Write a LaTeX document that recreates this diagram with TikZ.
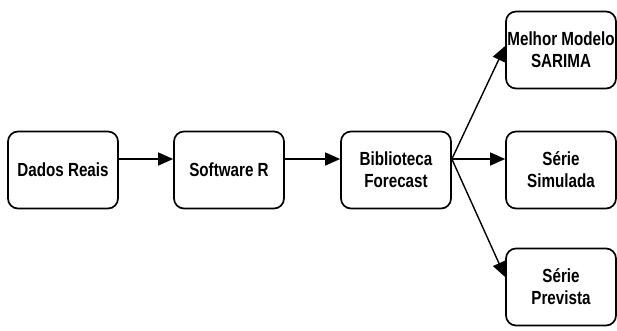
\documentclass[tikz,border=0pt]{standalone}
\usepackage{fontspec}
\setmainfont{Liberation Sans}[FakeStretch=0.8]
\usetikzlibrary{arrows.meta}

\begin{document}
\begin{tikzpicture}[x=1pt, y=-1pt,
  caixa/.style={draw, line width=1.7pt, rounded corners=10pt, minimum width=110pt,
    minimum height=77pt, inner sep=0pt, align=center,
    font=\bfseries\fontsize{19}{22}\selectfont},
  seta/.style={line width=1.4pt, -{Triangle[length=15pt, width=13pt]}}]
\useasboundingbox (0,0) rectangle (617,330);

\node[caixa] (dados) at (63,170) {Dados Reais};
\node[caixa] (software) at (229,170) {Software R};
\node[caixa] (biblioteca) at (396,170) {Biblioteca\\Forecast};

\node[caixa] (melhor) at (561,50) {Melhor Modelo\\SARIMA};
\node[caixa] (simulada) at (561,170) {Série\\Simulada};
\node[caixa] (prevista) at (561,287) {Série\\Prevista};

\draw[seta] ([yshift=11pt]dados.east) -- ([yshift=11pt]software.west);
\draw[seta] ([yshift=11pt]software.east) -- ([yshift=11pt]biblioteca.west);

\coordinate (saida) at ([yshift=11pt]biblioteca.east);
\draw[seta] (saida) -- ([yshift=4pt]melhor.west);
\draw[seta] (saida) -- ([yshift=11pt]simulada.west);
\draw[seta] (saida) -- ([yshift=10pt]prevista.west);
\end{tikzpicture}
\end{document}
